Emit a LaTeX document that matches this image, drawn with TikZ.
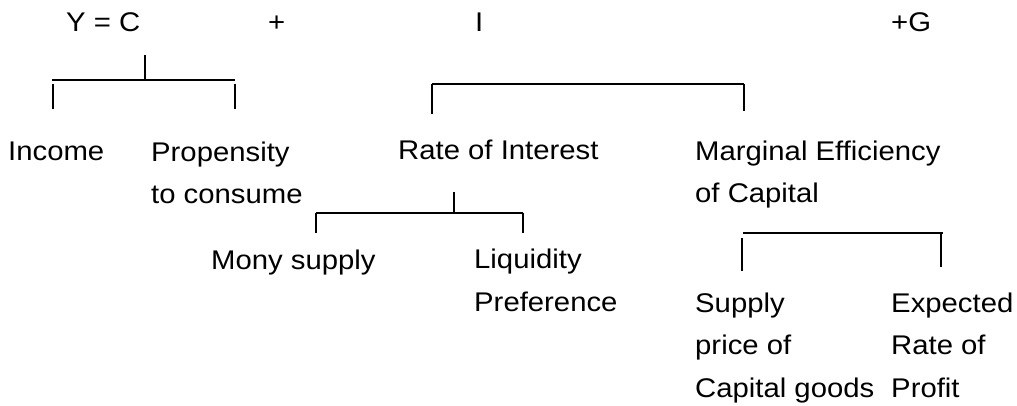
\documentclass[tikz,border=0pt]{standalone}
\usepackage{fontspec}
\setmainfont{Liberation Sans}[FakeStretch=1.085]
\usetikzlibrary{positioning}
\tikzset{%
	word/.style={anchor=base west, inner sep=0pt, align=left,%
		font=\fontsize{27}{42.5}\selectfont},
	bar/.style={line width=2.2pt}
}

\begin{document}
\begin{tikzpicture}[x=1pt, y=-1pt]
	\useasboundingbox (0,0) rectangle (1017,406);
	% top line (base anchor of a multi-line node is its last line)
	\node[word] (eq) at (66,32) {Y = C};
	\node[word] (plus) at (268,32) {+};
	\node[word] (inv) at (475,32) {I};
	\node[word] (gov) at (891,32) {+G};

	% second level
	\node[word] (income) at (8,161) {Income};
	\node[word] (prop) at (151,204) {Propensity\\to consume};
	\node[word] (rate) at (398,160) {Rate of Interest};
	\node[word] (mec) at (695,203) {Marginal Efficiency\\of Capital};

	% third level
	\node[word] (money) at (211,269) {Mony supply};
	\node[word] (liq) at (474,311) {Liquidity\\Preference};
	\node[word] (supply) at (695,397) {Supply\\price of\\Capital goods};
	\node[word] (expect) at (891,397) {Expected\\Rate of\\Profit};

	% bracket under C
	\coordinate (c-top) at (145,55);
	\coordinate (c-mid) at (145,80);
	\coordinate (c-l) at (52,80);
	\coordinate (c-r) at (235,80);
	\draw[bar] (c-top) -- (c-mid);
	\draw[bar] (c-l) -- (c-r);
	\draw[bar] (53,84) -- (53,109);
	\draw[bar] (235,84) -- (235,109);

	% bracket for I
	\coordinate (i-l) at (432,84);
	\coordinate (i-r) at (744,84);
	\draw[bar] (i-l) -- (i-r);
	\draw[bar] (i-l) -- (432,114);
	\draw[bar] (i-r) -- (744,111);

	% bracket under rate of interest
	\coordinate (r-top) at (454,192);
	\coordinate (r-mid) at (454,213);
	\coordinate (r-l) at (316,213);
	\coordinate (r-r) at (523,213);
	\draw[bar] (r-top) -- (r-mid);
	\draw[bar] (r-l) -- (r-r);
	\draw[bar] (r-l) -- (316,233);
	\draw[bar] (r-r) -- (523,233);

	% bracket under marginal efficiency
	\coordinate (m-l) at (743,233);
	\coordinate (m-r) at (943,233);
	\draw[bar] (m-l) -- (m-r);
	\draw[bar] (742,238) -- (742,271);
	\draw[bar] (941,233) -- (941,267);
\end{tikzpicture}
\end{document}
